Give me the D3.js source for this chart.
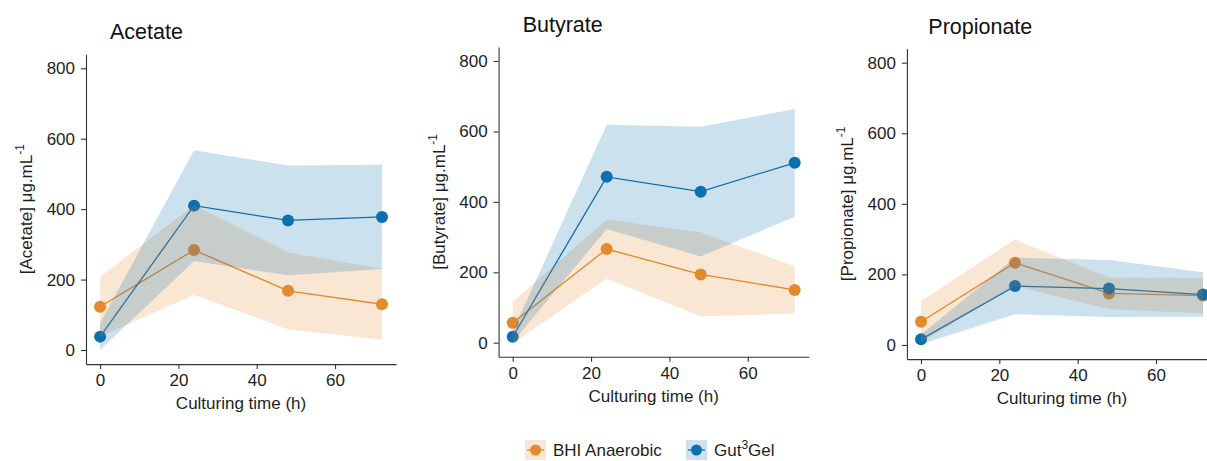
<!DOCTYPE html>
<html>
<head>
<meta charset="utf-8">
<script src="https://cdn.jsdelivr.net/npm/d3@7"></script>
<style>
  html, body { margin: 0; padding: 0; background: #fff; }
  svg { display: block; font-family: "Liberation Sans", Arial, sans-serif; }
</style>
</head>
<body>
<svg id="chart" width="1207" height="461"></svg>
<script>
// Sampling times (h)
const times = [0, 24, 48, 72];
const xTicks = [0, 20, 40, 60];
const yTicks = [0, 200, 400, 600, 800];
const groupNames = ["BHI Anaerobic", "Gut3Gel"];
const groupColors = ["#E3892E", "#0F6FAE"];

// Acetate, µg/mL: mean and spread (ribbon = mean ± sd)
const acetateBHI = [123, 284, 168, 130];
const acetateBHISd = [85, 127, 109, 101];
const acetateGut = [38, 410, 368, 378];
const acetateGutSd = [38, 157, 156, 148];

// Butyrate
const butyrateBHI = [57, 266, 194, 150];
const butyrateBHISd = [59, 84, 119, 67];
const butyrateGut = [17, 471, 429, 511];
const butyrateGutSd = [15, 148, 184, 153];

// Propionate
const propionateBHI = [66, 233, 146, 140];
const propionateBHISd = [59, 66, 45, 50];
const propionateGut = [16, 167, 160, 143];
const propionateGutSd = [14, 80, 81, 63];

const panels = [
  { title: "Acetate", label: "[Acetate] μg.mL",
    box: { left: 86, right: 396.1, top: 54.2, bottom: 364.1 }, titleX: 110, titleY: 39.3,
    series: [[acetateBHI, acetateBHISd], [acetateGut, acetateGutSd]] },
  { title: "Butyrate", label: "[Butyrate] μg.mL",
    box: { left: 498.6, right: 808.8, top: 46.9, bottom: 356.8 }, titleX: 522.7, titleY: 32.3,
    series: [[butyrateBHI, butyrateBHISd], [butyrateGut, butyrateGutSd]] },
  { title: "Propionate", label: "[Propionate] μg.mL",
    box: { left: 906.9, right: 1217.1, top: 48.6, bottom: 359.1 }, titleX: 928.3, titleY: 34.3,
    series: [[propionateBHI, propionateBHISd], [propionateGut, propionateGutSd]] }
];

const svg = d3.select("#chart");
const axisColor = "#333";
const textColor = "#1e1e1e";

panels.forEach(p => {
  const b = p.box;
  const x = d3.scaleLinear().domain([-3.6, 75.6]).range([b.left, b.right]);
  const y = d3.scaleLinear().domain([-40, 840]).range([b.bottom, b.top]);
  const g = svg.append("g");

  const rows = p.series.map(([mean, sd], gi) =>
    times.map((t, i) => ({ t, v: mean[i], lo: mean[i] - sd[i], hi: mean[i] + sd[i], gi })));

  const line = d3.line().x(d => x(d.t)).y(d => y(d.v));
  const area = d3.area().x(d => x(d.t)).y0(d => y(d.lo)).y1(d => y(d.hi));

  // lines and points
  rows.forEach((r, gi) => {
    g.append("path").attr("d", line(r)).attr("fill", "none")
      .attr("stroke", groupColors[gi]).attr("stroke-width", 1.3);
  });
  rows.forEach((r, gi) => {
    g.selectAll(null).data(r).enter().append("circle")
      .attr("cx", d => x(d.t)).attr("cy", d => y(d.v)).attr("r", 6)
      .attr("fill", groupColors[gi]);
  });
  // translucent ±sd ribbons
  rows.forEach((r, gi) => {
    g.append("path").attr("d", area(r)).attr("fill", groupColors[gi])
      .attr("fill-opacity", 0.21).attr("stroke", "none");
  });

  // axes
  const xAxis = g.append("g").attr("transform", `translate(0,${b.bottom})`)
    .call(d3.axisBottom(x).tickValues(xTicks).tickSize(5).tickPadding(5).tickSizeOuter(0));
  const yAxis = g.append("g").attr("transform", `translate(${b.left},0)`)
    .call(d3.axisLeft(y).tickValues(yTicks).tickSize(5).tickPadding(6).tickSizeOuter(0));
  [xAxis, yAxis].forEach(a => {
    a.select(".domain").attr("stroke", axisColor).attr("stroke-width", 1.1);
    a.selectAll(".tick line").attr("stroke", axisColor).attr("stroke-width", 1.1);
    a.selectAll(".tick text").attr("fill", textColor).attr("font-size", 17)
      .attr("font-family", "Liberation Sans, Arial, sans-serif");
  });

  // titles
  g.append("text").attr("x", p.titleX).attr("y", p.titleY).attr("font-size", 21.5)
    .attr("fill", "#111").text(p.title);
  g.append("text").attr("x", (b.left + b.right) / 2).attr("y", b.bottom + 45)
    .attr("text-anchor", "middle").attr("font-size", 17).attr("fill", textColor)
    .text("Culturing time (h)");
  const yl = g.append("text")
    .attr("transform", `translate(${b.left - 54},${(b.top + b.bottom) / 2}) rotate(-90)`)
    .attr("text-anchor", "middle").attr("font-size", 17).attr("fill", textColor);
  yl.append("tspan").text(p.label);
  yl.append("tspan").attr("font-size", 12).attr("dy", -8).text("-1");
});

// legend
const legend = svg.append("g");
const legendItems = [
  { x: 525, name: groupNames[0], gi: 0 },
  { x: 686, name: groupNames[1], gi: 1 }
];
legendItems.forEach(it => {
  const k = legend.append("g").attr("transform", `translate(${it.x},440)`);
  k.append("rect").attr("width", 21).attr("height", 20)
    .attr("fill", groupColors[it.gi]).attr("fill-opacity", 0.21);
  k.append("line").attr("x1", 2).attr("x2", 19).attr("y1", 10).attr("y2", 10)
    .attr("stroke", groupColors[it.gi]).attr("stroke-width", 1.3);
  k.append("circle").attr("cx", 10.5).attr("cy", 10).attr("r", 5.5).attr("fill", groupColors[it.gi]);
  const t = legend.append("text").attr("x", it.x + 28).attr("y", 456)
    .attr("font-size", 17).attr("fill", textColor);
  if (it.gi === 1) {
    t.append("tspan").text("Gut");
    t.append("tspan").attr("font-size", 12).attr("dy", -7).text("3");
    t.append("tspan").attr("dy", 7).text("Gel");
  } else {
    t.text(it.name);
  }
});
</script>
</body>
</html>
